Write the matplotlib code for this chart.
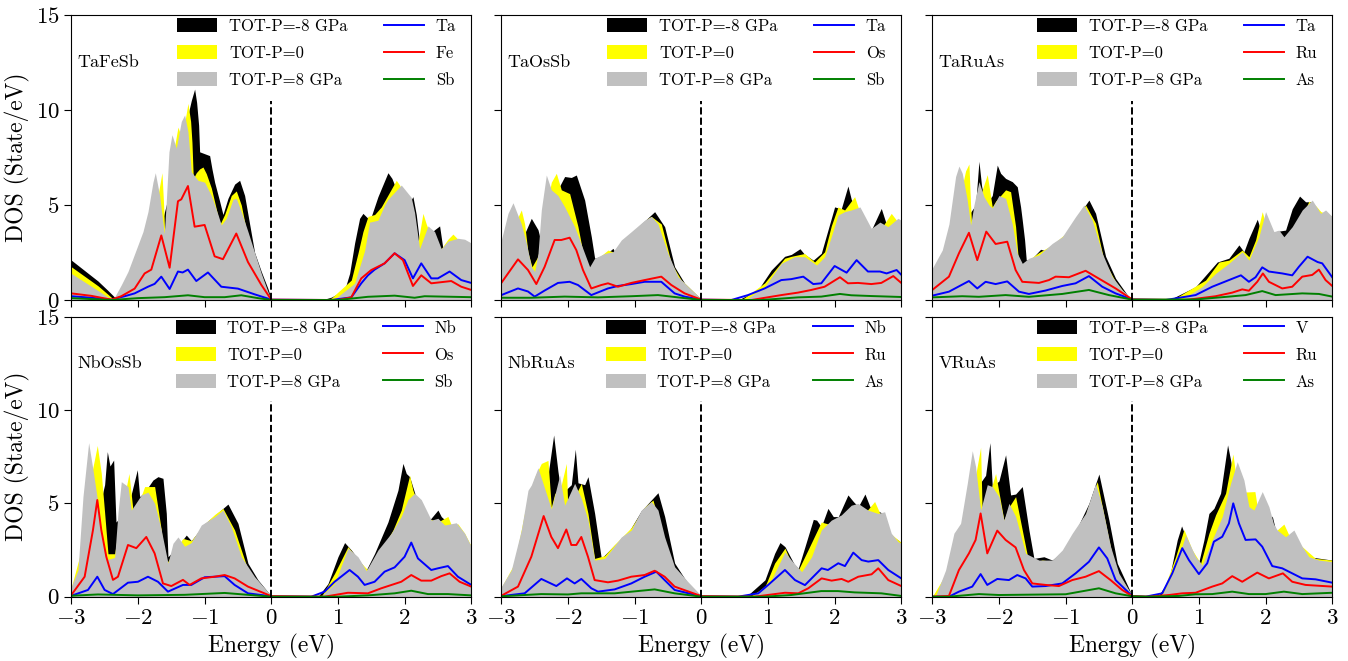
import matplotlib
matplotlib.use("Agg")
import matplotlib.pyplot as plt
from matplotlib.patches import Patch
from matplotlib.lines import Line2D

plt.rcParams.update({
    "font.family": "serif",
    "font.serif": ["cmr10"],
    "mathtext.fontset": "cm",
    "axes.formatter.use_mathtext": True,
    "axes.unicode_minus": True,
})

# ---------------------------------------------------------------------------
# Density of states, (energy in eV, DOS in states/eV)
# m8 / p0 / p8 : total DOS at P = -8 GPa, 0 GPa and 8 GPa
# ---------------------------------------------------------------------------

# TaFeSb
tafesb_m8 = [(-3.0, 2.1), (-2.8, 1.55), (-2.6, 1.0), (-2.45, 0.5), (-2.35, 0.15), (-2.2, 0.3), (-2.0, 1.5),
             (-1.8, 3.5), (-1.65, 4.0), (-1.5, 6.0), (-1.4, 7.5), (-1.3, 9.0), (-1.2, 10.5), (-1.15, 11.1),
             (-1.12, 10.4), (-1.09, 9.2), (-1.075, 7.8), (-1.0, 7.7), (-0.925, 7.6), (-0.89, 6.9), (-0.85, 6.2),
             (-0.775, 5.2), (-0.725, 4.5), (-0.65, 5.35), (-0.55, 6.1), (-0.475, 6.3), (-0.4, 5.5), (-0.325, 4.0),
             (-0.25, 2.5), (-0.15, 1.5), (-0.05, 0.6), (0.0, 0.05), (0.75, 0.0), (0.9, 0.15), (1.1, 0.53),
             (1.175, 1.4), (1.25, 3.0), (1.325, 4.3), (1.375, 4.56), (1.45, 4.3), (1.5, 4.4), (1.6, 5.44),
             (1.75, 6.7), (1.81, 6.4), (1.9, 5.6), (2.05, 5.0), (2.125, 5.44), (2.175, 4.5), (2.225, 3.0),
             (2.3, 3.2), (2.45, 3.7), (2.525, 3.9), (2.575, 2.7), (2.7, 2.9), (2.85, 3.0), (3.0, 2.9)]
tafesb_p0 = [(-3.0, 1.75), (-2.8, 1.25), (-2.6, 0.75), (-2.45, 0.3), (-2.37, 0.05), (-2.25, 0.4), (-2.1, 1.2),
             (-1.95, 2.8), (-1.8, 4.5), (-1.7, 5.5), (-1.64, 6.7), (-1.615, 5.0), (-1.6, 3.6), (-1.55, 4.5),
             (-1.48, 7.5), (-1.4, 9.1), (-1.34, 8.5), (-1.25, 10.35), (-1.21, 9.4), (-1.19, 8.3), (-1.17, 6.4),
             (-1.125, 6.7), (-1.075, 6.9), (-1.025, 7.0), (-0.975, 6.65), (-0.9, 5.9), (-0.825, 4.8),
             (-0.775, 3.95), (-0.7, 4.5), (-0.6, 5.5), (-0.525, 5.74), (-0.45, 5.0), (-0.35, 3.25), (-0.25, 2.0),
             (-0.15, 1.14), (-0.05, 0.35), (0.0, 0.02), (0.8, 0.0), (0.9, 0.1), (1.2, 1.05), (1.3, 2.46),
             (1.375, 3.6), (1.45, 4.4), (1.55, 4.5), (1.65, 4.9), (1.875, 6.3), (1.925, 6.05), (2.05, 5.0),
             (2.2, 3.0), (2.275, 4.56), (2.325, 4.0), (2.4, 3.3), (2.55, 2.7), (2.65, 3.2), (2.725, 3.47),
             (2.8, 3.2), (3.0, 3.0)]
tafesb_p8 = [(-3.0, 1.4), (-2.8, 0.95), (-2.6, 0.5), (-2.45, 0.15), (-2.375, 0.0), (-2.25, 0.8), (-2.15, 1.5),
             (-2.0, 2.9), (-1.925, 3.6), (-1.85, 4.65), (-1.775, 6.2), (-1.74, 6.7), (-1.675, 5.5), (-1.605, 3.5),
             (-1.575, 5.2), (-1.535, 7.8), (-1.49, 8.7), (-1.425, 8.0), (-1.35, 9.4), (-1.3, 9.74), (-1.25, 8.86),
             (-1.2, 6.75), (-1.1, 6.3), (-1.0, 6.2), (-0.9, 5.5), (-0.8, 4.5), (-0.75, 3.95), (-0.675, 4.3),
             (-0.575, 5.3), (-0.525, 5.35), (-0.45, 4.65), (-0.35, 3.6), (-0.25, 2.5), (-0.15, 1.4),
             (-0.05, 0.44), (0.0, 0.02), (0.85, 0.0), (0.95, 0.05), (1.25, 0.88), (1.4, 2.6), (1.475, 4.1),
             (1.6, 4.2), (1.7, 5.0), (1.75, 5.3), (1.95, 6.05), (2.1, 5.4), (2.15, 4.6), (2.225, 2.7),
             (2.35, 3.9), (2.45, 3.6), (2.55, 2.7), (2.65, 3.1), (2.8, 3.25), (2.9, 3.2), (3.0, 3.0)]
tafesb_ta = [(-3.0, 0.2), (-2.7, 0.12), (-2.4, 0.02), (-2.2, 0.2), (-2.05, 0.35), (-1.85, 0.7), (-1.75, 0.85),
             (-1.65, 1.23), (-1.525, 0.58), (-1.4, 1.5), (-1.33, 1.45), (-1.25, 1.6), (-1.125, 1.0),
             (-0.95, 1.45), (-0.75, 0.7), (-0.5, 0.6), (-0.25, 0.3), (0.0, 0.02), (0.9, 0.0), (1.2, 0.14),
             (1.35, 0.88), (1.45, 1.3), (1.55, 1.6), (1.7, 1.93), (1.85, 2.46), (2.0, 2.1), (2.125, 1.14),
             (2.25, 1.93), (2.4, 1.14), (2.5, 1.14), (2.675, 1.5), (2.85, 1.05), (3.0, 0.9)]
tafesb_fe = [(-3.0, 0.35), (-2.7, 0.22), (-2.4, 0.02), (-2.25, 0.2), (-2.05, 0.6), (-1.9, 1.4), (-1.8, 1.6),
             (-1.65, 3.4), (-1.525, 1.7), (-1.4, 5.2), (-1.35, 5.3), (-1.25, 6.0), (-1.15, 3.86), (-1.0, 3.95),
             (-0.85, 2.3), (-0.725, 2.15), (-0.525, 3.5), (-0.35, 2.0), (-0.15, 0.8), (0.0, 0.02), (1.0, 0.0),
             (1.2, 0.14), (1.35, 1.14), (1.5, 1.58), (1.7, 1.93), (1.85, 2.46), (1.975, 2.1), (2.125, 0.74),
             (2.25, 1.3), (2.4, 0.88), (2.7, 1.0), (2.85, 0.7), (3.0, 0.53)]
tafesb_sb = [(-3.0, 0.1), (-2.4, 0.0), (-2.0, 0.1), (-1.6, 0.15), (-1.25, 0.25), (-1.0, 0.15), (-0.7, 0.15),
             (-0.45, 0.25), (-0.2, 0.1), (0.0, 0.0), (1.0, 0.0), (1.45, 0.17), (1.85, 0.23), (2.15, 0.12),
             (2.3, 0.2), (3.0, 0.15)]

# TaOsSb
taossb_m8 = [(-3.0, 2.7), (-2.8, 3.3), (-2.65, 3.5), (-2.55, 4.3), (-2.45, 3.7), (-2.4, 3.0), (-2.3, 4.0),
             (-2.2, 5.5), (-2.05, 6.5), (-1.95, 6.45), (-1.875, 6.58), (-1.75, 5.26), (-1.65, 3.33), (-1.6, 2.2),
             (-1.5, 2.3), (-1.4, 2.5), (-1.325, 2.72), (-1.28, 2.4), (-1.1, 3.2), (-0.9, 4.0), (-0.7, 4.65),
             (-0.55, 3.86), (-0.4, 1.75), (-0.25, 0.88), (-0.05, 0.2), (0.0, 0.05), (0.55, 0.0), (0.85, 0.53),
             (1.05, 1.58), (1.25, 2.3), (1.35, 2.4), (1.48, 2.7), (1.55, 2.4), (1.68, 2.1), (1.8, 2.46),
             (2.0, 4.9), (2.1, 4.8), (2.2, 6.0), (2.25, 5.3), (2.33, 4.74), (2.55, 3.68), (2.7, 4.82),
             (2.78, 3.95), (2.85, 4.0), (3.0, 4.1)]
taossb_p0 = [(-3.0, 2.9), (-2.9, 3.6), (-2.8, 4.0), (-2.7, 4.74), (-2.65, 4.0), (-2.6, 2.5), (-2.54, 1.75),
             (-2.45, 2.3), (-2.35, 4.5), (-2.25, 6.2), (-2.175, 6.67), (-2.1, 5.8), (-1.975, 5.6), (-1.85, 3.86),
             (-1.725, 1.58), (-1.675, 1.3), (-1.55, 2.2), (-1.4, 2.63), (-1.3, 2.5), (-1.2, 3.0), (-1.0, 3.6),
             (-0.8, 4.3), (-0.75, 4.4), (-0.6, 4.0), (-0.45, 1.93), (-0.3, 1.05), (-0.05, 0.2), (0.0, 0.05),
             (0.6, 0.0), (0.95, 0.9), (1.25, 2.2), (1.35, 2.3), (1.55, 2.45), (1.7, 2.0), (1.85, 2.54),
             (1.95, 3.9), (2.05, 4.9), (2.15, 4.74), (2.3, 5.44), (2.45, 3.86), (2.6, 3.4), (2.7, 3.77),
             (2.85, 4.56), (2.95, 4.1), (3.0, 4.0)]
taossb_p8 = [(-3.0, 3.16), (-2.9, 4.56), (-2.825, 5.12), (-2.7, 4.0), (-2.625, 3.0), (-2.55, 1.75), (-2.5, 1.5),
             (-2.45, 2.45), (-2.4, 4.74), (-2.325, 6.58), (-2.25, 5.8), (-2.15, 5.5), (-2.05, 4.9), (-1.9, 3.86),
             (-1.75, 2.45), (-1.675, 1.75), (-1.6, 2.2), (-1.45, 2.45), (-1.325, 2.54), (-1.2, 3.16),
             (-1.05, 3.6), (-0.85, 4.2), (-0.75, 4.4), (-0.65, 4.0), (-0.5, 2.45), (-0.35, 1.23), (-0.15, 0.53),
             (0.0, 0.05), (0.65, 0.0), (0.7, 0.1), (0.95, 0.7), (1.2, 1.93), (1.4, 2.28), (1.55, 2.28),
             (1.73, 1.84), (1.85, 2.28), (1.95, 3.33), (2.05, 4.47), (2.15, 4.65), (2.25, 4.74), (2.38, 4.9),
             (2.55, 3.77), (2.68, 4.1), (2.8, 3.86), (2.95, 4.3), (3.0, 4.2)]
taossb_ta = [(-3.0, 0.26), (-2.75, 0.61), (-2.6, 0.45), (-2.5, 0.18), (-2.35, 0.5), (-2.15, 0.9), (-1.975, 0.96),
             (-1.85, 0.79), (-1.65, 0.26), (-1.4, 0.61), (-1.25, 0.74), (-1.05, 0.84), (-0.85, 0.96),
             (-0.6, 0.96), (-0.4, 0.35), (-0.25, 0.18), (0.0, 0.02), (0.45, 0.0), (0.7, 0.26), (0.95, 0.61),
             (1.2, 1.05), (1.35, 1.1), (1.53, 1.23), (1.68, 0.84), (1.8, 0.88), (2.0, 1.79), (2.18, 1.44),
             (2.33, 2.1), (2.5, 1.5), (2.68, 1.5), (2.78, 1.4), (2.93, 1.58), (3.0, 1.33)]
taossb_os = [(-3.0, 0.9), (-2.75, 2.14), (-2.6, 1.58), (-2.475, 0.84), (-2.35, 1.75), (-2.2, 3.16), (-2.1, 3.16),
             (-1.975, 3.28), (-1.875, 2.63), (-1.775, 1.58), (-1.65, 0.61), (-1.5, 0.79), (-1.4, 0.88),
             (-1.25, 0.7), (-1.05, 0.9), (-0.85, 1.05), (-0.6, 1.23), (-0.45, 0.79), (-0.25, 0.35), (0.0, 0.02),
             (0.75, 0.0), (1.2, 0.26), (1.45, 0.39), (1.65, 0.53), (1.85, 0.7), (2.08, 1.2), (2.2, 0.88),
             (2.35, 0.9), (2.55, 0.84), (2.7, 0.9), (2.88, 1.26), (3.0, 0.9)]
taossb_sb = [(-3.0, 0.12), (-2.55, 0.12), (-2.05, 0.18), (-1.55, 0.14), (-1.05, 0.2), (-0.65, 0.26),
             (-0.35, 0.14), (0.0, 0.0), (0.9, 0.0), (1.45, 0.14), (1.8, 0.18), (2.08, 0.32), (2.25, 0.25),
             (2.55, 0.21), (3.0, 0.16)]

# TaRuAs
taruas_m8 = [(-3.0, 1.3), (-2.8, 2.0), (-2.6, 3.5), (-2.45, 4.5), (-2.35, 5.0), (-2.3, 7.3), (-2.26, 6.0),
             (-2.2, 5.0), (-2.1, 5.5), (-2.025, 7.1), (-1.975, 6.67), (-1.9, 6.4), (-1.8, 6.23), (-1.725, 5.96),
             (-1.675, 4.9), (-1.65, 4.2), (-1.615, 3.16), (-1.59, 2.1), (-1.5, 2.2), (-1.375, 2.67), (-1.3, 2.6),
             (-1.1, 3.0), (-0.9, 4.0), (-0.65, 5.26), (-0.55, 4.56), (-0.4, 2.3), (-0.25, 1.14), (-0.05, 0.15),
             (0.0, 0.03), (0.55, 0.0), (0.95, 0.7), (1.15, 1.5), (1.275, 2.0), (1.45, 2.2), (1.6, 2.9),
             (1.675, 2.54), (1.75, 3.25), (1.875, 4.25), (1.925, 3.7), (2.0, 3.2), (2.15, 3.6), (2.3, 3.68),
             (2.4, 4.8), (2.51, 5.47), (2.6, 5.17), (2.675, 5.17), (2.7, 5.0), (2.8, 4.5), (2.9, 4.6), (3.0, 4.3)]
taruas_p0 = [(-3.0, 1.5), (-2.8, 2.4), (-2.65, 4.5), (-2.55, 6.0), (-2.5, 6.8), (-2.45, 7.16), (-2.425, 5.0),
             (-2.41, 4.0), (-2.35, 4.5), (-2.25, 5.8), (-2.175, 6.6), (-2.1, 4.9), (-2.05, 5.2), (-1.9, 5.8),
             (-1.825, 5.7), (-1.75, 3.86), (-1.7, 1.75), (-1.6, 2.0), (-1.4, 2.5), (-1.2, 2.9), (-1.0, 3.5),
             (-0.8, 4.4), (-0.7, 5.0), (-0.55, 4.04), (-0.425, 2.1), (-0.25, 0.96), (-0.05, 0.1), (0.0, 0.03),
             (0.6, 0.0), (1.1, 1.05), (1.3, 2.0), (1.45, 2.1), (1.65, 2.63), (1.75, 2.28), (1.85, 3.16),
             (1.95, 4.65), (2.0, 4.0), (2.1, 3.3), (2.2, 3.0), (2.35, 2.7), (2.5, 4.0), (2.65, 5.2),
             (2.75, 4.97), (2.83, 4.65), (2.9, 4.56), (3.0, 4.4)]
taruas_p8 = [(-3.0, 1.67), (-2.85, 2.63), (-2.75, 4.0), (-2.65, 6.5), (-2.6, 7.05), (-2.55, 6.67), (-2.475, 5.25),
             (-2.425, 3.95), (-2.375, 5.0), (-2.3, 6.23), (-2.225, 5.44), (-2.15, 5.0), (-2.1, 4.85), (-2.0, 5.5),
             (-1.9, 5.35), (-1.8, 4.0), (-1.725, 2.46), (-1.65, 1.93), (-1.55, 2.2), (-1.4, 2.37), (-1.2, 2.98),
             (-1.05, 3.33), (-0.85, 4.39), (-0.725, 5.0), (-0.6, 4.2), (-0.45, 2.46), (-0.3, 1.23),
             (-0.15, 0.53), (0.0, 0.05), (0.65, 0.0), (0.75, 0.05), (1.05, 0.7), (1.25, 1.4), (1.45, 1.93),
             (1.65, 2.54), (1.75, 2.1), (1.9, 3.33), (2.0, 4.65), (2.125, 3.6), (2.2, 3.68), (2.275, 3.33),
             (2.4, 3.86), (2.55, 4.74), (2.7, 5.26), (2.825, 4.56), (2.9, 4.74), (3.0, 4.39)]
taruas_ta = [(-3.0, 0.23), (-2.75, 0.44), (-2.45, 1.0), (-2.325, 0.61), (-2.2, 0.96), (-2.05, 0.84),
             (-1.875, 0.98), (-1.7, 0.44), (-1.55, 0.32), (-1.3, 0.5), (-1.05, 0.74), (-0.85, 0.88),
             (-0.65, 1.26), (-0.45, 0.7), (-0.25, 0.35), (0.0, 0.03), (0.5, 0.0), (0.95, 0.26), (1.2, 0.7),
             (1.45, 1.05), (1.63, 1.3), (1.75, 0.96), (1.85, 1.2), (1.95, 1.72), (2.05, 1.5), (2.25, 1.4),
             (2.4, 1.3), (2.5, 1.75), (2.63, 2.28), (2.78, 2.0), (2.85, 1.93), (3.0, 1.2)]
taruas_ru = [(-3.0, 0.53), (-2.75, 1.23), (-2.6, 2.46), (-2.45, 3.54), (-2.325, 2.1), (-2.19, 3.6), (-2.05, 2.95),
             (-1.875, 3.07), (-1.75, 1.58), (-1.65, 0.96), (-1.4, 0.9), (-1.25, 1.05), (-1.15, 1.23),
             (-0.95, 1.2), (-0.7, 1.54), (-0.55, 1.23), (-0.25, 0.61), (0.0, 0.03), (0.8, 0.0), (1.25, 0.2),
             (1.5, 0.39), (1.65, 0.56), (1.75, 0.49), (1.875, 0.96), (1.96, 1.4), (2.05, 0.96), (2.25, 0.61),
             (2.4, 0.7), (2.55, 1.23), (2.7, 1.32), (2.8, 1.6), (2.9, 1.05), (3.0, 0.74)]
taruas_as = [(-3.0, 0.14), (-2.55, 0.2), (-2.3, 0.17), (-1.9, 0.26), (-1.55, 0.17), (-1.05, 0.32), (-0.65, 0.53),
             (-0.35, 0.26), (0.0, 0.02), (0.95, 0.03), (1.45, 0.18), (1.7, 0.26), (1.95, 0.47), (2.15, 0.26),
             (2.55, 0.35), (2.8, 0.32), (3.0, 0.18)]

# NbOsSb
nbossb_m8 = [(-3.0, 0.3), (-2.8, 1.5), (-2.6, 4.5), (-2.5, 6.0), (-2.46, 7.77), (-2.42, 7.0), (-2.365, 7.32),
             (-2.33, 4.0), (-2.2, 4.5), (-2.1, 5.5), (-2.01, 6.8), (-1.975, 5.36), (-1.9, 5.6), (-1.775, 6.25),
             (-1.7, 6.43), (-1.625, 6.34), (-1.575, 4.46), (-1.55, 2.14), (-1.45, 2.5), (-1.275, 3.3),
             (-1.2, 3.0), (-1.0, 3.9), (-0.8, 4.5), (-0.65, 4.96), (-0.5, 3.93), (-0.35, 1.79), (-0.2, 0.9),
             (0.0, 0.03), (0.7, 0.0), (0.85, 0.7), (1.0, 2.14), (1.1, 2.9), (1.2, 2.5), (1.35, 1.79),
             (1.425, 1.43), (1.55, 2.32), (1.75, 4.0), (1.9, 5.7), (1.975, 7.14), (2.025, 6.6), (2.075, 6.43),
             (2.2, 5.0), (2.35, 4.0), (2.5, 4.64), (2.55, 4.29), (2.7, 3.8), (2.85, 3.4), (3.0, 2.7)]
nbossb_p0 = [(-3.0, 0.5), (-2.85, 2.5), (-2.7, 6.5), (-2.61, 8.1), (-2.55, 6.6), (-2.5, 4.5), (-2.45, 2.3),
             (-2.35, 2.3), (-2.25, 4.5), (-2.135, 6.6), (-2.075, 4.64), (-2.0, 4.9), (-1.9, 5.9), (-1.75, 5.9),
             (-1.65, 3.57), (-1.6, 1.6), (-1.5, 2.2), (-1.325, 3.12), (-1.2, 3.0), (-1.0, 3.9), (-0.85, 4.4),
             (-0.725, 4.73), (-0.55, 3.57), (-0.35, 1.43), (-0.15, 0.6), (0.0, 0.03), (0.75, 0.0), (0.95, 1.25),
             (1.15, 2.68), (1.35, 1.79), (1.45, 1.43), (1.65, 2.5), (1.825, 3.57), (1.95, 4.64), (2.075, 6.5),
             (2.125, 5.7), (2.2, 5.0), (2.35, 4.2), (2.5, 4.0), (2.65, 4.3), (2.7, 3.84), (2.8, 3.9),
             (2.9, 3.4), (3.0, 2.7)]
nbossb_p8 = [(-3.0, 0.54), (-2.9, 1.43), (-2.825, 5.36), (-2.74, 8.25), (-2.675, 6.8), (-2.6, 5.0), (-2.525, 2.8),
             (-2.45, 2.0), (-2.35, 2.1), (-2.3, 4.5), (-2.25, 6.16), (-2.15, 5.9), (-2.1, 4.64), (-1.95, 5.45),
             (-1.85, 5.6), (-1.75, 5.0), (-1.65, 3.57), (-1.55, 1.8), (-1.475, 2.86), (-1.4, 3.2), (-1.3, 2.7),
             (-1.2, 2.9), (-1.05, 3.84), (-0.85, 4.29), (-0.725, 4.64), (-0.6, 3.75), (-0.45, 2.14),
             (-0.25, 1.07), (0.0, 0.05), (0.75, 0.04), (0.95, 0.7), (1.15, 2.6), (1.3, 2.14), (1.425, 1.39),
             (1.6, 2.5), (1.8, 3.4), (1.95, 4.3), (2.05, 5.2), (2.15, 5.54), (2.25, 5.2), (2.4, 4.1), (2.5, 4.2),
             (2.6, 3.84), (2.775, 3.96), (2.9, 3.4), (3.0, 2.68)]
nbossb_nb = [(-3.0, 0.05), (-2.75, 0.36), (-2.61, 1.07), (-2.5, 0.36), (-2.375, 0.14), (-2.15, 0.75), (-2.0, 0.8),
             (-1.85, 1.07), (-1.7, 0.8), (-1.55, 0.27), (-1.325, 0.63), (-1.2, 0.63), (-1.0, 1.04),
             (-0.85, 1.07), (-0.7, 1.1), (-0.55, 0.63), (-0.35, 0.18), (0.0, 0.02), (0.6, 0.0), (0.8, 0.27),
             (0.95, 0.8), (1.175, 1.43), (1.3, 1.07), (1.4, 0.63), (1.55, 0.8), (1.7, 1.34), (1.85, 1.57),
             (2.0, 2.14), (2.1, 2.9), (2.2, 2.05), (2.4, 1.43), (2.5, 1.52), (2.65, 1.64), (2.8, 1.07), (3.0, 0.63)]
nbossb_os = [(-3.0, 0.09), (-2.8, 1.07), (-2.675, 3.57), (-2.61, 5.18), (-2.55, 3.57), (-2.475, 2.14),
             (-2.375, 0.9), (-2.3, 1.07), (-2.15, 2.77), (-2.025, 2.6), (-1.875, 3.2), (-1.75, 2.32),
             (-1.625, 0.71), (-1.5, 0.57), (-1.325, 0.9), (-1.225, 0.63), (-1.05, 0.98), (-0.85, 1.07),
             (-0.7, 1.16), (-0.55, 0.98), (-0.35, 0.54), (0.0, 0.03), (0.8, 0.0), (1.15, 0.21), (1.45, 0.18),
             (1.65, 0.45), (1.95, 0.8), (2.1, 1.16), (2.25, 0.86), (2.4, 0.86), (2.55, 1.1), (2.675, 1.25),
             (2.825, 0.8), (3.0, 0.54)]
nbossb_sb = [(-3.0, 0.05), (-2.6, 0.12), (-2.0, 0.07), (-1.3, 0.1), (-0.7, 0.2), (-0.35, 0.1), (0.0, 0.0),
             (1.0, 0.0), (1.45, 0.07), (1.85, 0.18), (2.1, 0.32), (2.35, 0.14), (2.65, 0.14), (3.0, 0.07)]

# NbRuAs
nbruas_m8 = [(-3.0, 0.4), (-2.8, 1.4), (-2.6, 3.5), (-2.4, 5.5), (-2.3, 6.5), (-2.215, 8.66), (-2.15, 6.7),
             (-2.1, 5.5), (-1.95, 6.0), (-1.89, 7.9), (-1.85, 6.1), (-1.75, 6.0), (-1.7, 6.43), (-1.6, 4.46),
             (-1.5, 2.05), (-1.3, 2.77), (-1.1, 3.4), (-0.9, 4.6), (-0.65, 5.57), (-0.55, 4.3), (-0.4, 1.8),
             (-0.2, 0.7), (0.0, 0.03), (0.65, 0.0), (0.7, 0.09), (0.955, 0.9), (1.1, 2.32), (1.18, 2.9),
             (1.255, 2.68), (1.4, 1.7), (1.455, 1.52), (1.555, 2.68), (1.68, 4.14), (1.73, 4.1), (1.8, 3.75),
             (1.9, 4.73), (1.98, 4.29), (2.055, 4.29), (2.2, 5.45), (2.28, 5.1), (2.355, 4.82), (2.455, 5.5),
             (2.53, 4.82), (2.7, 4.5), (2.85, 3.3), (3.0, 2.9)]
nbruas_p0 = [(-3.0, 0.5), (-2.8, 1.8), (-2.65, 4.5), (-2.5, 6.4), (-2.4, 7.14), (-2.3, 7.3), (-2.25, 4.8),
             (-2.2, 5.5), (-2.1, 6.0), (-2.025, 7.14), (-2.0, 4.46), (-1.95, 5.0), (-1.8, 6.07), (-1.7, 4.46),
             (-1.6, 2.05), (-1.45, 2.2), (-1.3, 2.8), (-1.05, 3.7), (-0.85, 4.8), (-0.725, 5.18), (-0.55, 2.86),
             (-0.4, 1.43), (-0.2, 0.6), (0.0, 0.03), (0.75, 0.05), (0.955, 0.54), (1.1, 1.8), (1.255, 2.6),
             (1.35, 1.8), (1.455, 1.43), (1.6, 2.5), (1.8, 4.0), (1.9, 3.9), (2.05, 3.9), (2.15, 4.46),
             (2.25, 4.1), (2.45, 4.46), (2.6, 5.1), (2.68, 4.46), (2.8, 3.5), (3.0, 2.9)]
nbruas_p8 = [(-3.0, 0.54), (-2.85, 1.43), (-2.7, 3.57), (-2.6, 5.7), (-2.55, 5.98), (-2.45, 6.9), (-2.35, 5.8),
             (-2.25, 4.7), (-2.125, 6.5), (-2.05, 4.9), (-1.9, 6.07), (-1.8, 5.27), (-1.7, 4.1), (-1.6, 1.96),
             (-1.45, 2.05), (-1.35, 2.5), (-1.2, 3.2), (-1.05, 3.57), (-0.9, 4.64), (-0.75, 5.1), (-0.65, 4.64),
             (-0.55, 3.2), (-0.4, 1.6), (-0.2, 0.8), (0.0, 0.05), (0.75, 0.0), (0.8, 0.09), (1.05, 0.89),
             (1.255, 2.4), (1.35, 1.96), (1.505, 1.34), (1.655, 2.14), (1.8, 3.57), (1.95, 4.1), (2.1, 4.38),
             (2.25, 4.9), (2.35, 5.0), (2.5, 4.64), (2.65, 4.46), (2.75, 4.55), (2.85, 3.4), (2.95, 2.95),
             (3.0, 2.86)]
nbruas_nb = [(-3.0, 0.03), (-2.65, 0.18), (-2.4, 0.95), (-2.175, 0.57), (-2.015, 0.98), (-1.9, 0.71),
             (-1.8, 0.95), (-1.65, 0.45), (-1.55, 0.27), (-1.3, 0.39), (-1.05, 0.71), (-0.85, 1.07),
             (-0.675, 1.34), (-0.55, 0.89), (-0.4, 0.36), (0.0, 0.02), (0.55, 0.0), (0.855, 0.18), (1.0, 0.62),
             (1.255, 1.43), (1.405, 0.89), (1.555, 0.62), (1.68, 1.07), (1.805, 1.52), (1.9, 1.43),
             (2.055, 1.79), (2.155, 1.64), (2.28, 2.36), (2.405, 1.96), (2.505, 1.88), (2.655, 1.96),
             (2.805, 1.43), (3.0, 0.98)]
nbruas_ru = [(-3.0, 0.05), (-2.75, 0.54), (-2.55, 2.14), (-2.365, 4.32), (-2.25, 3.2), (-2.15, 2.6),
             (-2.025, 3.6), (-1.95, 2.77), (-1.875, 2.77), (-1.8, 3.2), (-1.7, 2.14), (-1.6, 0.89), (-1.4, 0.77),
             (-1.25, 0.86), (-1.05, 1.07), (-0.85, 1.16), (-0.7, 1.39), (-0.55, 1.07), (-0.4, 0.54),
             (0.0, 0.03), (0.8, 0.0), (1.255, 0.21), (1.455, 0.18), (1.605, 0.45), (1.805, 0.98), (1.955, 0.86),
             (2.105, 0.95), (2.205, 0.8), (2.355, 1.07), (2.555, 1.2), (2.655, 1.52), (2.805, 0.89), (3.0, 0.57)]
nbruas_as = [(-3.0, 0.02), (-2.4, 0.14), (-2.0, 0.12), (-1.8, 0.18), (-1.3, 0.18), (-0.7, 0.39), (-0.4, 0.18),
             (0.0, 0.0), (0.95, 0.0), (1.35, 0.09), (1.8, 0.3), (2.05, 0.3), (2.3, 0.23), (2.7, 0.18), (3.0, 0.04)]

# VRuAs
vruas_m8 = [(-3.0, 0.0), (-2.8, 0.9), (-2.6, 3.0), (-2.4, 5.5), (-2.2, 6.5), (-2.135, 8.25), (-2.1, 5.9),
            (-2.0, 6.2), (-1.9, 7.6), (-1.825, 5.45), (-1.75, 5.5), (-1.65, 5.9), (-1.55, 3.57), (-1.475, 2.05),
            (-1.325, 2.14), (-1.2, 1.96), (-1.05, 2.4), (-0.85, 3.5), (-0.65, 5.0), (-0.5, 6.57), (-0.35, 4.1),
            (-0.225, 1.79), (0.0, 0.05), (0.35, 0.0), (0.4, 0.09), (0.55, 0.89), (0.675, 3.04), (0.74, 3.79),
            (0.8, 3.21), (0.925, 2.14), (1.0, 1.875), (1.075, 3.04), (1.15, 4.46), (1.225, 4.73), (1.325, 5.54),
            (1.43, 8.13), (1.475, 7.32), (1.55, 5.7), (1.65, 5.27), (1.725, 5.36), (1.76, 4.82), (1.9, 4.6),
            (2.05, 4.0), (2.1, 4.32), (2.15, 3.57), (2.3, 3.0), (2.65, 2.14), (3.0, 1.96)]
vruas_p0 = [(-3.0, 0.0), (-2.8, 1.2), (-2.65, 3.2), (-2.5, 4.5), (-2.35, 6.5), (-2.275, 8.0), (-2.25, 4.3),
            (-2.2, 4.5), (-2.1, 6.0), (-2.05, 6.6), (-1.925, 4.1), (-1.85, 4.8), (-1.75, 5.36), (-1.6, 2.68),
            (-1.55, 1.8), (-1.35, 1.96), (-1.2, 1.9), (-1.05, 2.4), (-0.9, 3.3), (-0.7, 4.4), (-0.525, 6.16),
            (-0.35, 3.04), (-0.25, 1.43), (0.0, 0.05), (0.4, 0.0), (0.45, 0.18), (0.65, 2.14), (0.775, 3.6),
            (0.9, 2.5), (1.025, 1.79), (1.15, 3.39), (1.25, 4.38), (1.4, 5.54), (1.51, 7.64), (1.55, 6.6),
            (1.65, 5.6), (1.84, 5.63), (1.875, 4.82), (2.0, 4.5), (2.15, 3.5), (2.275, 3.89), (2.35, 3.3),
            (2.75, 2.05), (3.0, 1.96)]
vruas_p8 = [(-3.0, 0.0), (-2.95, 0.04), (-2.8, 1.43), (-2.675, 3.4), (-2.575, 3.93), (-2.475, 6.07), (-2.4, 7.82),
            (-2.35, 6.96), (-2.275, 4.64), (-2.175, 6.0), (-2.1, 5.9), (-2.0, 5.36), (-1.925, 4.1), (-1.85, 5.0),
            (-1.75, 4.3), (-1.6, 2.32), (-1.4, 1.96), (-1.2, 1.96), (-1.05, 2.5), (-0.9, 3.4), (-0.7, 4.46),
            (-0.55, 6.07), (-0.45, 4.82), (-0.325, 2.68), (-0.2, 1.25), (0.0, 0.05), (0.4, 0.0), (0.45, 0.09),
            (0.65, 1.6), (0.8, 3.3), (0.95, 2.14), (1.05, 1.7), (1.2, 3.04), (1.35, 4.29), (1.475, 6.07),
            (1.575, 7.23), (1.675, 6.25), (1.75, 4.82), (1.825, 4.64), (1.95, 5.63), (2.05, 4.82), (2.12, 3.9),
            (2.175, 3.57), (2.3, 3.21), (2.425, 3.57), (2.55, 2.68), (2.65, 2.14), (2.8, 1.96), (3.0, 1.875)]
vruas_v = [(-3.0, 0.0), (-2.75, 0.0), (-2.6, 0.27), (-2.4, 0.54), (-2.275, 1.21), (-2.175, 0.63), (-2.025, 0.95),
           (-1.85, 0.89), (-1.725, 1.16), (-1.6, 0.98), (-1.5, 0.54), (-1.3, 0.57), (-1.05, 0.71), (-0.85, 1.25),
           (-0.65, 1.87), (-0.5, 2.64), (-0.375, 2.05), (-0.25, 0.89), (0.0, 0.03), (0.2, 0.0), (0.45, 0.18),
           (0.6, 1.25), (0.75, 2.6), (0.85, 1.96), (1.0, 1.21), (1.125, 1.79), (1.225, 2.95), (1.35, 3.21),
           (1.45, 3.93), (1.515, 5.0), (1.6, 3.93), (1.7, 3.04), (1.85, 3.07), (1.95, 2.68), (2.1, 1.64),
           (2.25, 1.52), (2.35, 1.34), (2.55, 0.98), (2.75, 0.93), (3.0, 0.75)]
vruas_ru = [(-3.0, 0.0), (-2.75, 0.04), (-2.6, 1.43), (-2.45, 2.32), (-2.35, 3.04), (-2.275, 4.46), (-2.175, 2.32),
            (-2.025, 3.54), (-1.9, 3.04), (-1.75, 2.64), (-1.625, 1.43), (-1.5, 0.71), (-1.3, 0.63), (-1.1, 0.57),
            (-0.9, 0.89), (-0.7, 1.07), (-0.5, 1.37), (-0.325, 0.89), (-0.15, 0.36), (0.0, 0.03), (0.25, 0.0),
            (0.55, 0.09), (0.75, 0.18), (0.95, 0.21), (1.2, 0.54), (1.35, 0.71), (1.5, 1.1), (1.65, 0.8),
            (1.875, 1.29), (2.05, 0.98), (2.26, 1.25), (2.4, 0.8), (2.6, 0.63), (3.0, 0.54)]
vruas_as = [(-3.0, 0.0), (-2.75, 0.0), (-2.3, 0.14), (-2.0, 0.09), (-1.5, 0.11), (-1.0, 0.13), (-0.5, 0.45),
            (-0.25, 0.18), (0.0, 0.02), (0.25, 0.0), (0.7, 0.04), (0.95, 0.13), (1.2, 0.14), (1.5, 0.27),
            (1.75, 0.14), (2.0, 0.14), (2.275, 0.27), (2.55, 0.14), (3.0, 0.21)]

compounds = ["TaFeSb", "TaOsSb", "TaRuAs", "NbOsSb", "NbRuAs", "VRuAs"]
element_names = [("Ta", "Fe", "Sb"), ("Ta", "Os", "Sb"), ("Ta", "Ru", "As"),
                 ("Nb", "Os", "Sb"), ("Nb", "Ru", "As"), ("V", "Ru", "As")]
total_dos = [(tafesb_m8, tafesb_p0, tafesb_p8), (taossb_m8, taossb_p0, taossb_p8),
             (taruas_m8, taruas_p0, taruas_p8), (nbossb_m8, nbossb_p0, nbossb_p8),
             (nbruas_m8, nbruas_p0, nbruas_p8), (vruas_m8, vruas_p0, vruas_p8)]
partial_dos = [(tafesb_ta, tafesb_fe, tafesb_sb), (taossb_ta, taossb_os, taossb_sb),
               (taruas_ta, taruas_ru, taruas_as), (nbossb_nb, nbossb_os, nbossb_sb),
               (nbruas_nb, nbruas_ru, nbruas_as), (vruas_v, vruas_ru, vruas_as)]
pressure_labels = ["TOT-P=-8 GPa", "TOT-P=0", "TOT-P=8 GPa"]

fill_colors = ["black", "yellow", "silver"]
line_colors = ["blue", "red", "green"]

fig = plt.figure(figsize=(13.48, 6.61), dpi=100)
col_left = [0.0529, 0.3719, 0.6916]
col_width = 0.2967
row_box = [(0.5461, 0.4312), (0.0973, 0.4236)]

for idx, name in enumerate(compounds):
    r, c = divmod(idx, 3)
    bottom, height = row_box[r]
    ax = fig.add_axes([col_left[c], bottom, col_width, height])

    for pts, col in zip(total_dos[idx], fill_colors):
        e, d = zip(*pts)
        ax.fill_between(e, d, color=col, lw=0)
    for pts, col in zip(partial_dos[idx], line_colors):
        e, d = zip(*pts)
        ax.plot(e, d, color=col, lw=1.4)

    ax.axvline(0, ymax=0.7, color="black", ls="--", lw=1.4)
    ax.set_xlim(-3, 3)
    ax.set_ylim(0, 15)
    ax.set_xticks(range(-3, 4))
    ax.set_yticks([0, 5, 10, 15])
    ax.tick_params(labelsize=16.5, length=5, width=0.8)
    if c != 0:
        ax.tick_params(labelleft=False)
    else:
        ax.set_ylabel("DOS (State/eV)", fontsize=17)
    if r == 0:
        ax.tick_params(labelbottom=False)
    else:
        ax.set_xlabel("Energy (eV)", fontsize=17)

    ax.text(0.015, 0.835, name, transform=ax.transAxes, fontsize=13, va="center", ha="left")

    handles = [Patch(facecolor=fc, edgecolor="none") for fc in fill_colors]
    handles += [Line2D([], [], color=lc, lw=1.4) for lc in line_colors]
    ax.legend(handles, pressure_labels + list(element_names[idx]), ncol=2, loc="upper right",
              bbox_to_anchor=(0.962, 0.988), frameon=False, fontsize=12, handlelength=2.4,
              handleheight=0.9, handletextpad=0.7, columnspacing=2.2, borderaxespad=0.0,
              borderpad=0.0, labelspacing=0.68)

fig.savefig("out.png", dpi=100)
